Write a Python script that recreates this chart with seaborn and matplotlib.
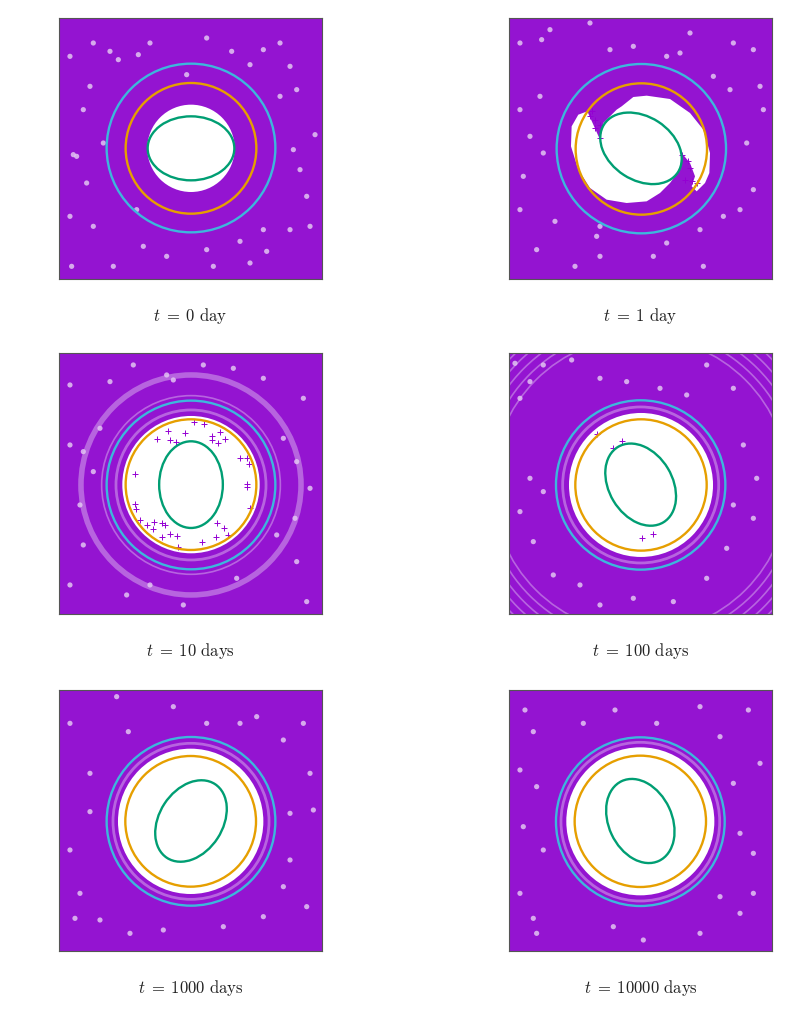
import matplotlib
matplotlib.use('Agg')
import matplotlib.pyplot as plt
from matplotlib.patches import Circle, Ellipse, Polygon
import pandas as pd
import seaborn as sns

labels = ['$t\\;=\\;0\\ \\mathrm{day}$', '$t\\;=\\;1\\ \\mathrm{day}$', '$t\\;=\\;10\\ \\mathrm{days}$',
          '$t\\;=\\;100\\ \\mathrm{days}$', '$t\\;=\\;1000\\ \\mathrm{days}$', '$t\\;=\\;10000\\ \\mathrm{days}$']
panel_left = [59.3, 509.3, 59.3, 509.3, 59.3, 509.3]
panel_top = [18.0, 18.0, 353.3, 353.3, 690.0, 690.0]
y_top = [25, 25, 25, 25, 30, 30]

# circles: centre x, centre y, radius
cyan_circles = [(423, 415, 253), (424, 417, 254), (423, 420, 253), (422, 420, 254), (423, 424, 253), (421, 425, 253)]
orange_circles = [(423, 416, 196), (424, 418, 197), (423, 419, 196), (423, 420, 197), (422, 424, 196), (421, 424, 197)]
# ellipses: centre x, centre y, width, height, angle
green_ellipses = [(423, 416, 260, 192, 0), (423, 416, 264, 190, 33), (423, 419, 191, 260, 0),
                  (422, 419, 264, 190, 59), (423, 423, 264, 190, -57), (421, 423, 264, 190, 65)]

# empty middle of the particle cloud
hole_radius = [131, None, 206, 216, 218, 222]
hole_day1 = [(440, 258), (510, 268), (570, 310), (610, 360), (630, 430), (628, 490), (615, 520), (590, 545),
             (575, 530), (585, 500), (570, 460), (545, 430), (540, 480), (510, 520), (480, 550), (440, 575),
             (380, 580), (320, 570), (270, 535), (235, 480), (213, 410), (215, 350), (235, 315), (262, 305),
             (280, 345), (300, 390), (310, 340), (350, 300), (365, 290), (400, 262)]

# paler rings in the cloud (radius, line width)
rings = [[], [],
         [(225, 2.0), (268, 1.2), (330, 4)],
         [(234, 2), (445, 1.2), (470, 1.2), (495, 1.2), (520, 1.2), (545, 1.2)],
         [(234, 2)],
         [(238, 2)]]

# single crosses visible inside the hole
strays = [[],
          [(275, 305), (285, 330), (300, 345), (285, 355), (300, 385), (270, 320), (565, 455), (570, 475),
           (575, 515), (590, 520), (545, 435), (555, 510)],
          [(405, 265), (355, 258), (320, 283), (360, 285), (378, 292), (485, 272), (487, 285), (510, 262),
           (505, 295), (525, 282), (432, 232), (462, 238), (570, 338), (590, 338), (598, 358), (590, 418),
           (590, 425), (255, 388), (255, 478), (258, 492), (270, 525), (290, 540), (312, 530), (335, 535),
           (345, 540), (310, 552), (335, 575), (360, 568), (380, 572), (385, 605), (455, 590), (500, 535),
           (522, 550), (498, 575), (535, 570), (600, 488)],
          [(365, 287), (340, 310), (290, 268), (426, 578), (460, 568)],
          [], []]

# largest white gaps visible in the cloud
gaps_0 = [(60, 140), (80, 440), (70, 435), (120, 230), (130, 100), (205, 150), (265, 135), (470, 85), (545, 125),
          (600, 165), (690, 100), (720, 170), (795, 375), (740, 240), (690, 260), (750, 480), (110, 520), (60, 620),
          (65, 770), (190, 770), (280, 710), (490, 770), (570, 695), (640, 660), (720, 660), (650, 725), (780, 650),
          (130, 650), (410, 195), (470, 720), (350, 740), (180, 125), (300, 100), (640, 120), (100, 300), (160, 400),
          (730, 420), (770, 560), (260, 600), (600, 760)]
gaps_1 = [(125, 90), (150, 60), (270, 40), (570, 70), (690, 240), (780, 230), (60, 100), (120, 260), (60, 300),
          (90, 380), (130, 430), (70, 500), (60, 600), (165, 635), (110, 720), (300, 650), (600, 660), (670, 620),
          (720, 600), (760, 540), (740, 400), (790, 300), (300, 740), (225, 770), (500, 700), (610, 770), (460, 740),
          (700, 100), (760, 120), (400, 110), (330, 120), (500, 140), (640, 200), (540, 130), (290, 680)]
gaps_10 = [(700, 280), (740, 350), (735, 520), (680, 570), (100, 320), (90, 480), (60, 120), (350, 90), (370, 105),
           (180, 110), (150, 250), (130, 380), (230, 750), (300, 720), (400, 780), (60, 720), (740, 650), (770, 770),
           (560, 700), (640, 100), (550, 70), (760, 160), (460, 60), (250, 60), (60, 300), (780, 430), (100, 600)]
gaps_100 = [(45, 55), (215, 45), (380, 110), (90, 110), (130, 60), (620, 60), (700, 130), (60, 160), (90, 400),
            (130, 440), (60, 500), (730, 300), (770, 400), (700, 480), (760, 520), (160, 690), (240, 720), (620, 700),
            (480, 130), (300, 100), (560, 150), (400, 760), (300, 780), (520, 770), (100, 590), (680, 610)]
gaps_1000 = [(235, 155), (120, 395), (60, 130), (200, 50), (370, 80), (620, 110), (570, 130), (700, 180), (760, 130),
             (790, 390), (720, 400), (90, 640), (75, 715), (240, 760), (340, 750), (640, 710), (700, 620), (770, 680),
             (60, 510), (120, 280), (470, 130), (720, 540), (520, 740), (150, 720), (780, 280)]
gaps_10000 = [(75, 90), (100, 155), (345, 90), (600, 80), (745, 90), (660, 170), (110, 320), (60, 270), (70, 440),
              (130, 510), (700, 310), (780, 250), (720, 460), (760, 520), (100, 715), (60, 640), (110, 760), (340, 740),
              (660, 650), (720, 700), (600, 760), (470, 130), (250, 130), (760, 640), (430, 780)]
gaps = [gaps_0, gaps_1, gaps_10, gaps_100, gaps_1000, gaps_10000]

# the dense cloud of crosses is too thick to read one by one, so a flat fill stands in for it
field_color = '#9414D1'
pale_color = '#E2C6F2'

sns.set_style('white')
plt.rcParams['mathtext.fontset'] = 'cm'

fig = plt.figure(figsize=(8.01, 10.24), dpi=100)

for i in range(6):
    # axes box is 262.4 x 261 px in the 801 x 1024 figure
    ax = fig.add_axes([panel_left[i] / 801, 1 - (panel_top[i] + 261) / 1024, 262.4 / 801, 261 / 1024])
    ax.set_xlim(28, 815)
    ax.set_ylim(y_top[i] + 783, y_top[i])
    ax.set_facecolor(field_color)

    for r, w in rings[i]:
        ax.add_patch(Circle(cyan_circles[i][:2], r, fill=False, ec=pale_color, lw=w, alpha=0.45))

    if hole_radius[i] is None:
        ax.add_patch(Polygon(hole_day1, closed=True, fc='white', ec='none'))
    else:
        ax.add_patch(Circle(orange_circles[i][:2], hole_radius[i], fc='white', ec='none'))

    gap_df = pd.DataFrame(gaps[i], columns=['x', 'y'])
    sns.scatterplot(data=gap_df, x='x', y='y', ax=ax, s=14, color=pale_color, alpha=0.85, edgecolor='none', legend=False)

    if strays[i]:
        stray_df = pd.DataFrame(strays[i], columns=['x', 'y'])
        sns.scatterplot(data=stray_df, x='x', y='y', ax=ax, s=16, marker='+', color='#9400D3', linewidth=0.7, legend=False)

    cx, cy, r = cyan_circles[i]
    ax.add_patch(Circle((cx, cy), r, fill=False, ec='#3DB7DC', lw=1.7))
    cx, cy, r = orange_circles[i]
    ax.add_patch(Circle((cx, cy), r, fill=False, ec='#E69F00', lw=1.7))
    cx, cy, w, h, angle = green_ellipses[i]
    ax.add_patch(Ellipse((cx, cy), w, h, angle=angle, fill=False, ec='#009E73', lw=1.7))

    ax.set_xticks([])
    ax.set_yticks([])
    ax.set_xlabel('')
    ax.set_ylabel('')
    for s in ax.spines.values():
        s.set_color('#555555')
        s.set_linewidth(0.8)
    ax.text(0.5, -0.142, labels[i], transform=ax.transAxes, ha='center', va='center', fontsize=12, color='#222222')

fig.savefig('out.png', dpi=100)
